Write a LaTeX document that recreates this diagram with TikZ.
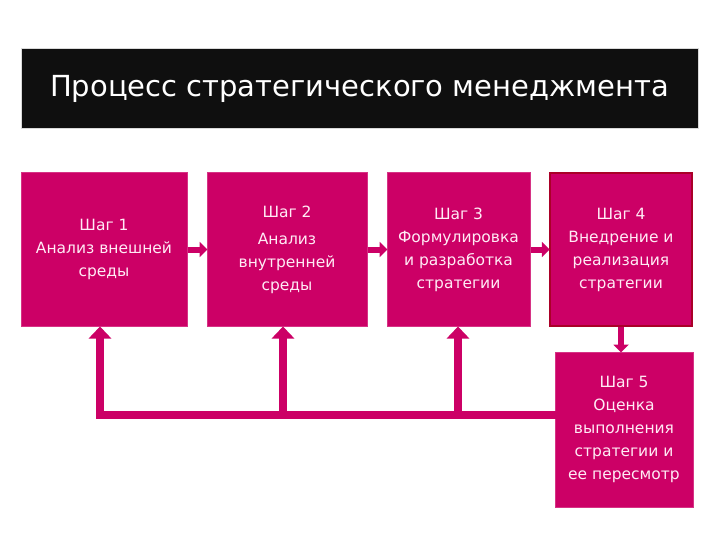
\documentclass[tikz,border=0pt]{standalone}
\usepackage{fontspec}
\setmainfont{DejaVu Sans}
\usetikzlibrary{arrows.meta}
\definecolor{mag}{RGB}{204,0,102}
\definecolor{magdark}{RGB}{170,0,40}
\definecolor{txt}{RGB}{255,235,245}
\tikzset{
  stepbox/.style={fill=mag, draw=mag!80!white, line width=1pt, text=txt, align=center,
    font=\fontsize{15.5}{23}\selectfont, inner sep=0pt},
  flow/.style={draw=mag, line width=6pt, -{Triangle[width=15pt,length=8pt]}, shorten >=-1pt},
  fb/.style={draw=mag, line width=8pt},
  fbarrow/.style={draw=mag, line width=8pt, -{Triangle[width=22pt,length=12pt]}},
}
\begin{document}
\begin{tikzpicture}[x=1pt,y=-1pt]
\useasboundingbox (0,0) rectangle (720,540);
\fill[white] (0,0) rectangle (720,540);
% banner
\node[fill=black!94, draw=black!15, line width=1pt, minimum width=677pt, minimum height=80pt,
  text=white, font=\fontsize{29}{34}\selectfont, inner sep=0pt] (title) at (359.5,89)
  {Процесс стратегического менеджмента};
% boxes
\node[stepbox, minimum width=166pt, minimum height=153pt] (b1) at (104,249.5)
  {Шаг 1\\Анализ внешней\\среды};
\node[stepbox, minimum width=160pt, minimum height=153pt] (b2) at (287,249.5)
  {Шаг 2\\[4pt]Анализ\\внутренней\\среды};
\node[stepbox, minimum width=143pt, minimum height=153pt] (b3) at (458.5,249.5)
  {Шаг 3\\Формулировка\\и разработка\\стратегии};
\node[stepbox, draw=magdark, line width=2.5pt, minimum width=142pt, minimum height=153pt] (b4) at (621,249.5)
  {Шаг 4\\Внедрение и\\реализация\\стратегии};
\node[stepbox, minimum width=138pt, minimum height=155pt] (b5) at (624,429.5)
  {Шаг 5\\Оценка\\выполнения\\стратегии и\\ее пересмотр};
% flow arrows
\draw[flow] (b1.east) -- (b2.west);
\draw[flow] (b2.east) -- (b3.west);
\draw[flow] (b3.east) -- (b4.west);
\draw[flow] (b4.south) -- (b4.south |- b5.north);
% feedback
\coordinate (f1) at (100,415);
\coordinate (f2) at (283,415);
\coordinate (f3) at (458,415);
\coordinate (f5) at (b5.west |- f1);
\draw[fb] ([xshift=2pt]f5) -- ([xshift=-4pt]f1);
\draw[fbarrow] ([yshift=4pt]f1) -- (f1 |- b1.south);
\draw[fbarrow] ([yshift=4pt]f2) -- (f2 |- b2.south);
\draw[fbarrow] ([yshift=4pt]f3) -- (f3 |- b3.south);
\end{tikzpicture}
\end{document}
